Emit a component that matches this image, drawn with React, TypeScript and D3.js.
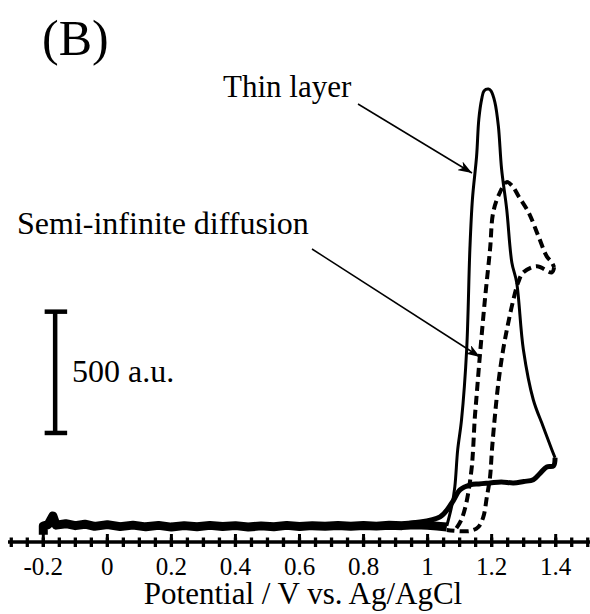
import React from "react";
import * as d3 from "d3";

const width = 590;
const height = 614;

// potential (V) / intensity (a.u.) pairs
const thinLayerForward: [number, number][] = [
  [1.06, 17], [1.076, 103], [1.085, 178], [1.094, 331], [1.106, 455],
  [1.122, 744], [1.132, 1157], [1.14, 1364], [1.153, 1541], [1.16, 1694],
  [1.169, 1777], [1.176, 1810], [1.19, 1818], [1.198, 1810], [1.21, 1764],
  [1.221, 1665], [1.231, 1488], [1.247, 1322], [1.263, 1103], [1.278, 1021],
  [1.299, 744], [1.33, 537], [1.361, 426], [1.388, 331], [1.398, 298],
];

const thinLayerReverse: [number, number][] = [
  [1.398, 298], [1.393, 264], [1.372, 260], [1.35, 232], [1.33, 207],
  [1.3, 200], [1.268, 194], [1.23, 198], [1.195, 194], [1.16, 190],
  [1.133, 186], [1.101, 165], [1.076, 112], [1.039, 54], [0.954, 29], [0.851, 14],
];

const semiForward: [number, number][] = [
  [1.09, 8], [1.105, 41], [1.121, 112], [1.137, 248], [1.142, 331],
  [1.147, 455], [1.152, 537], [1.163, 715], [1.179, 950], [1.195, 1157],
  [1.205, 1310], [1.226, 1392], [1.247, 1434], [1.265, 1417], [1.284, 1376],
  [1.315, 1310], [1.346, 1211], [1.372, 1128], [1.388, 1103], [1.395, 1083],
];

const semiReverse: [number, number][] = [
  [1.395, 1083], [1.388, 1062], [1.341, 1087], [1.299, 1062], [1.283, 1021],
  [1.268, 950], [1.252, 855], [1.236, 744], [1.221, 607], [1.21, 467],
  [1.201, 331], [1.195, 219], [1.185, 136], [1.174, 54], [1.158, 12],
  [1.132, -4], [1.06, 0],
];

const baseline: [number, number][] = [
  [-0.2, -20], [-0.2, 16], [-0.185, 22], [-0.17, 58], [-0.16, 20], [-0.13, 26],
  [-0.1, 18], [-0.07, 24], [-0.04, 15], [0, 22], [0.04, 14], [0.08, 20],
  [0.12, 13], [0.16, 19], [0.2, 12], [0.24, 18], [0.28, 13], [0.32, 19],
  [0.36, 14], [0.4, 18], [0.44, 12], [0.48, 17], [0.52, 13], [0.56, 19],
  [0.6, 14], [0.64, 18], [0.68, 15], [0.72, 19], [0.76, 15], [0.8, 19],
  [0.84, 16], [0.88, 20], [0.92, 18], [0.96, 22], [1.0, 20], [1.03, 16], [1.06, 12],
];

const majorTicks = [-0.2, 0, 0.2, 0.4, 0.6, 0.8, 1, 1.2, 1.4];
const tickLabels = ["-0.2", "0", "0.2", "0.4", "0.6", "0.8", "1", "1.2", "1.4"];
const minorTicks = d3.range(-0.3, 1.5001, 0.05);
const scaleBar = { at: -0.163, from: 400, to: 900, label: "500 a.u." };

const xScale = d3.scaleLinear().domain([-0.2, 1.4]).range([43.3, 555.7]);
const yScale = d3.scaleLinear().domain([0, 500]).range([530, 408.7]);

const smooth = d3
  .line<[number, number]>()
  .x(d => xScale(d[0]))
  .y(d => yScale(d[1]))
  .curve(d3.curveCatmullRom.alpha(0.5));

const rough = d3
  .line<[number, number]>()
  .x(d => xScale(d[0]))
  .y(d => yScale(d[1]));

const font = "'Liberation Serif', 'Times New Roman', serif";
const axisY = 542;

export default function App() {
  const barX = xScale(scaleBar.at);
  const barTop = yScale(scaleBar.to);
  const barBottom = yScale(scaleBar.from);

  return (
    <svg
      width={width}
      height={height}
      style={{ position: "absolute", left: 0, top: 0, background: "#fff" }}
      fontFamily={font}
    >
      <defs>
        <marker
          id="ah"
          viewBox="0 0 14 10"
          refX={14}
          refY={5}
          markerWidth={14}
          markerHeight={10}
          markerUnits="userSpaceOnUse"
          orient="auto"
        >
          <path d="M0,0 L14,5 L0,10 L4,5 Z" fill="#000" />
        </marker>
      </defs>

      {/* curves */}
      <path d={rough(baseline) || ""} fill="none" stroke="#000" strokeWidth={9} strokeLinejoin="round" />
      <path d={smooth(thinLayerReverse) || ""} fill="none" stroke="#000" strokeWidth={5} strokeLinejoin="round" />
      <path d={smooth(thinLayerForward) || ""} fill="none" stroke="#000" strokeWidth={3} strokeLinejoin="round" />
      <path
        d={smooth(semiForward) || ""}
        fill="none"
        stroke="#000"
        strokeWidth={4}
        strokeDasharray="9 5"
      />
      <path
        d={smooth(semiReverse) || ""}
        fill="none"
        stroke="#000"
        strokeWidth={4}
        strokeDasharray="9 5"
      />

      {/* x axis */}
      <line x1={8} x2={590} y1={axisY} y2={axisY} stroke="#000" strokeWidth={3.5} />
      {minorTicks.map((t, i) => (
        <line key={"m" + i} x1={xScale(t)} x2={xScale(t)} y1={537.5} y2={547} stroke="#000" strokeWidth={3.3} />
      ))}
      {majorTicks.map((t, i) => (
        <line key={"M" + i} x1={xScale(t)} x2={xScale(t)} y1={534} y2={547} stroke="#000" strokeWidth={3} />
      ))}
      {majorTicks.map((t, i) => (
        <text key={"l" + i} x={xScale(t)} y={575} textAnchor="middle" fontSize={25}>
          {tickLabels[i]}
        </text>
      ))}
      <text x={303} y={604} textAnchor="middle" fontSize={31}>
        Potential / V vs. Ag/AgCl
      </text>

      {/* scale bar */}
      <line x1={barX} x2={barX} y1={barTop} y2={barBottom} stroke="#000" strokeWidth={4.5} />
      <line x1={barX - 10.5} x2={barX + 12} y1={barTop} y2={barTop} stroke="#000" strokeWidth={4.5} />
      <line x1={barX - 10.5} x2={barX + 12} y1={barBottom} y2={barBottom} stroke="#000" strokeWidth={4.5} />
      <text x={72} y={382} fontSize={32}>
        {scaleBar.label}
      </text>

      {/* annotations */}
      <text x={42} y={55} fontSize={50}>
        (B)
      </text>
      <text x={223} y={97} fontSize={31}>
        Thin layer
      </text>
      <line x1={358} y1={104} x2={472} y2={173} stroke="#000" strokeWidth={1.5} markerEnd="url(#ah)" />
      <text x={17} y={234} fontSize={32}>
        Semi-infinite diffusion
      </text>
      <line x1={312} y1={249} x2={480} y2={357} stroke="#000" strokeWidth={1.5} markerEnd="url(#ah)" />
    </svg>
  );
}
